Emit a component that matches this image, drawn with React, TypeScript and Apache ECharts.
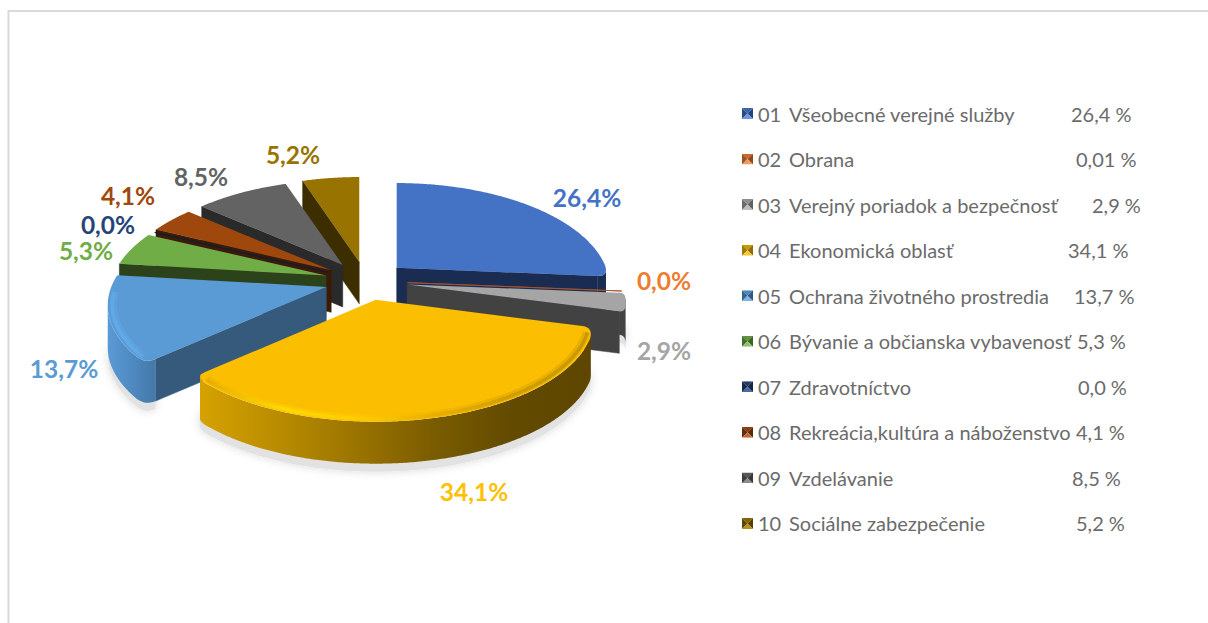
import React, { useEffect, useRef } from "react";
import * as echarts from "echarts";

// ---- data ----
const codes = ["01", "02", "03", "04", "05", "06", "07", "08", "09", "10"];
const categories = [
  "Všeobecné verejné služby",
  "Obrana",
  "Verejný poriadok a bezpečnosť",
  "Ekonomická oblasť",
  "Ochrana životného prostredia",
  "Bývanie a občianska vybavenosť",
  "Zdravotníctvo",
  "Rekreácia,kultúra a náboženstvo",
  "Vzdelávanie",
  "Sociálne zabezpečenie",
];
const values = [26.4, 0.01, 2.9, 34.1, 13.7, 5.3, 0.04, 4.1, 8.5, 5.2];
const sliceLabels = ["26,4%", "0,0%", "2,9%", "34,1%", "13,7%", "5,3%", "0,0%", "4,1%", "8,5%", "5,2%"];
const legendValues = ["26,4 %", "0,01 %", "2,9 %", "34,1 %", "13,7 %", "5,3 %", "0,0 %", "4,1 %", "8,5 %", "5,2 %"];

// ---- styles ----
const topColors = ["#4472C4", "#A5532A", "#A5A5A5", "#FBBE00", "#5B9BD5", "#70AD47", "#0F1E3C", "#9E480E", "#636363", "#997300"];
const labelColors = ["#4472C4", "#ED7D31", "#A5A5A5", "#FFC000", "#5B9BD5", "#70AD47", "#264478", "#9E480E", "#636363", "#997300"];
const faceColors = ["#1A2C51", "#7A3C12", "#424242", "#614800", "#355A7C", "#2B421B", "#0F1E3C", "#3B1B05", "#2A2A2A", "#3D2E00"];
const wallStops: (string[] | null)[] = [
  null, null, null,
  ["#D6A200", "#B98C00", "#9A7400", "#7A5C00", "#624A00", "#5E4600"],
  ["#5A9AD6", "#4F8AC2", "#4478A8"],
  null, null, null, null, null,
];
const rimStops: (string[] | null)[] = [
  null, null, null,
  ["#E2AA00", "#FFE000", "#FFD000", "#E4AC00", "#C79600", "#BE8F00"],
  ["#62ABEA", "#63AEEE", "#5FA8E6"],
  null, null, null, null, null,
];
const iconShades = [
  ["#6F95DA", "#2C4A85", "#3C64AD", "#27437A"],
  ["#F19A5E", "#9E5220", "#C9682A", "#8E4A1D"],
  ["#BDBDBD", "#6B6B6B", "#8F8F8F", "#616161"],
  ["#F0C83C", "#9E7B00", "#C79A00", "#8E6E00"],
  ["#7FB2E0", "#33648F", "#4C86BC", "#2E5A82"],
  ["#8FC26B", "#44702C", "#5E943A", "#3D6428"],
  ["#4A6AA5", "#17294A", "#213B69", "#152543"],
  ["#BD6A30", "#632D09", "#8A3F0C", "#592908"],
  ["#8A8A8A", "#3D3D3D", "#555555", "#373737"],
  ["#B8921E", "#5E4700", "#846400", "#554000"],
];

// ---- layout ----
const CENTER = { x: 366, y: 281 };
const EXPLODE = { x: 41.7, y: 19.4 };
const RADIUS_X = 215;
const RADIUS_Y = 100;
const PERSPECTIVE = 0.179;
const WIDTH_BY_DEPTH = 0.002;
const DEPTH = 42;
const CORNER = 11;
const THIN = 0.1;
const LABEL_FONT = "Lato, Carlito, sans-serif";
const labelPositions = [
  [587, 197], [664, 280], [664, 350], [474, 491], [64, 368],
  [86, 250], [108, 224], [128, 195], [201, 176], [293, 154],
];
const legendValueX = [1072, 1077, 1093, 1069, 1075, 1078, 1079, 1077, 1073, 1077];
const LEGEND_NAME_X = 790;

const total = values.reduce((a, b) => a + b, 0);
const rad = (d: number) => (d * Math.PI) / 180;

function sliceAngles(i: number) {
  let sum = 0;
  for (let k = 0; k < i; k++) sum += values[k];
  const start = (sum / total) * 360;
  return { start, end: start + (values[i] / total) * 360 };
}
function apexOf(i: number) {
  const { start, end } = sliceAngles(i);
  const m = rad((start + end) / 2);
  return { x: CENTER.x + EXPLODE.x * Math.sin(m), y: CENTER.y - EXPLODE.y * Math.cos(m) };
}
function pointOn(i: number, deg: number, r = 1): number[] {
  const a = apexOf(i);
  const t = rad(deg);
  const c = Math.cos(t) * r;
  const p = 1 / (1 + PERSPECTIVE * c);
  const rx = RADIUS_X * (1 + Math.min(0, a.y - CENTER.y) * WIDTH_BY_DEPTH);
  return [a.x + rx * Math.sin(t) * r * p, a.y - RADIUS_Y * c * p];
}
function arc(i: number, from: number, to: number, r = 1): number[][] {
  const pts: number[][] = [];
  const n = Math.max(1, Math.ceil(Math.abs(to - from) * 2));
  for (let k = 0; k <= n; k++) pts.push(pointOn(i, from + ((to - from) * k) / n, r));
  return pts;
}
const isFrontCorner = (deg: number) => deg > 90 && deg < 270;

// Outline of the rim, its front corners softened; first/last points lie on the radial edges.
function outline(i: number): number[][] {
  const { start, end } = sliceAngles(i);
  const a = [apexOf(i).x, apexOf(i).y];
  const big = values[i] >= 1;
  const pts = arc(i, start, end, values[i] < THIN ? 0.985 : 1);
  const soften = (list: number[][], deg: number, size: number) => {
    if (!big || !isFrontCorner(deg)) return list;
    const e = list[0];
    const len = Math.hypot(e[0] - a[0], e[1] - a[1]);
    const p0 = [e[0] + ((a[0] - e[0]) * size) / len, e[1] + ((a[1] - e[1]) * size) / len];
    let k = 1;
    while (k < list.length - 1 && Math.hypot(list[k][0] - e[0], list[k][1] - e[1]) < size) k++;
    const p1 = list[k];
    const curve: number[][] = [];
    for (let s = 0; s < 8; s++) {
      const t = s / 8;
      curve.push([
        (1 - t) * (1 - t) * p0[0] + 2 * t * (1 - t) * e[0] + t * t * p1[0],
        (1 - t) * (1 - t) * p0[1] + 2 * t * (1 - t) * e[1] + t * t * p1[1],
      ]);
    }
    return curve.concat(list.slice(k));
  };
  const size = values[i] < 5 ? CORNER / 2 : CORNER;
  const once = soften(pts, start, size);
  return soften(once.reverse(), end, size).reverse();
}
function gradient(stops: string[], x0: number, x1: number) {
  return {
    type: "linear", x: x0, y: 0, x2: x1, y2: 0, global: true,
    colorStops: stops.map((color, k) => ({ offset: k / (stops.length - 1), color })),
  };
}
function faceVisible(i: number, edgeDeg: number) {
  if (values[i] < THIN) return false;
  const { start, end } = sliceAngles(i);
  const a = apexOf(i);
  const e = pointOn(i, edgeDeg);
  const mid = pointOn(i, (start + end) / 2, 0.5);
  const dx = e[0] - a.x;
  if (Math.abs(dx) < 1) return false;
  return mid[1] < a.y + ((e[1] - a.y) * (mid[0] - a.x)) / dx;
}
const shifted = (pts: number[][], dz: number) => pts.map((p) => [p[0], p[1] + dz]);
// The part of the rim that faces the viewer, trimmed to run one way across the screen.
function frontRim(i: number, rim: number[][]) {
  const { start, end } = sliceAngles(i);
  if (values[i] < THIN || end <= 90 || start >= 270) return [];
  const a = apexOf(i);
  const kept = rim.filter((p) => {
    if (start >= 90 && end <= 270) return true;
    return p[1] >= a.y - 0.5;
  });
  if (kept.length < 2) return [];
  let lo = 0;
  let hi = 0;
  kept.forEach((p, k) => {
    if (p[0] < kept[lo][0]) lo = k;
    if (p[0] > kept[hi][0]) hi = k;
  });
  return kept.slice(Math.min(lo, hi), Math.max(lo, hi) + 1);
}

function renderSlice(i: number) {
  return (_params: any, api: any) => {
    api.value(0);
    const { start, end } = sliceAngles(i);
    const a = [apexOf(i).x, apexOf(i).y];
    const rim = outline(i);
    const children: any[] = [];
    // radial faces
    [start, end].forEach((deg) => {
      if (!faceVisible(i, deg)) return;
      const e = deg === start ? rim[0] : rim[rim.length - 1];
      children.push({
        type: "polygon",
        shape: { points: [a, e, [e[0], e[1] + DEPTH], [a[0], a[1] + DEPTH]] },
        style: { fill: faceColors[i], stroke: faceColors[i], lineWidth: 0.5 },
      });
    });
    // outer wall
    const front = frontRim(i, rim);
    if (front.length > 1) {
      const xs = front.map((p) => p[0]);
      const x0 = Math.min(...xs);
      const x1 = Math.max(...xs);
      const stops = wallStops[i];
      children.push({
        type: "polygon",
        shape: { points: front.concat(shifted(front, DEPTH).reverse()) },
        style: { fill: stops ? gradient(stops, x0, x1) : faceColors[i] },
      });
    }
    // top face
    children.push({
      type: "polygon",
      shape: { points: [a].concat(rim) },
      style: {
        fill: topColors[i],
        stroke: values[i] < THIN ? topColors[i] : "none",
        lineWidth: values[i] < THIN ? 0.9 : 0,
      },
    });
    // bevel highlight along the front rim
    const rimFill = rimStops[i];
    if (rimFill && front.length > 1) {
      const from = Math.max(start, 90) + 3;
      const to = Math.min(end, 270) - 3;
      const line = arc(i, from, to, 0.975);
      const xs = line.map((p) => p[0]);
      const fill = gradient(rimFill, Math.min(...xs), Math.max(...xs));
      children.push({
        type: "polyline",
        shape: { points: line },
        style: { stroke: fill, lineWidth: 7, fill: "none", opacity: 0.35 },
      });
      children.push({
        type: "polyline",
        shape: { points: arc(i, from, to, 0.98) },
        style: { stroke: fill, lineWidth: 3.5, fill: "none", opacity: 0.7 },
      });
    }
    // data label
    children.push({
      type: "text",
      x: labelPositions[i][0],
      y: labelPositions[i][1],
      z2: 10,
      style: {
        text: sliceLabels[i],
        fill: labelColors[i],
        font: `bold 24.5px ${LABEL_FONT}`,
        align: "center",
        verticalAlign: "middle",
      },
    });
    return { type: "group", children };
  };
}

function renderShadow(params: any, api: any) {
  api.value(0);
  const i = params.dataIndex;
  const front = frontRim(i, outline(i));
  if (front.length < 2) return { type: "group", children: [] };
  return {
    type: "polygon",
    shape: { points: shifted(front, DEPTH - 12).concat(shifted(front, DEPTH + 8).reverse()) },
    style: {
      fill: "#E2E2E2",
      shadowColor: "rgba(0,0,0,0.15)",
      shadowBlur: 8,
      shadowOffsetX: 0,
      shadowOffsetY: 0,
    },
  };
}

function iconUri(i: number) {
  const [b, l, t, r] = iconShades[i];
  const svg =
    `<svg xmlns="http://www.w3.org/2000/svg" width="11" height="11" viewBox="0 0 11 11">` +
    `<polygon points="0,0 11,0 5.5,5.5" fill="${t}"/>` +
    `<polygon points="0,0 0,11 5.5,5.5" fill="${l}"/>` +
    `<polygon points="11,0 11,11 5.5,5.5" fill="${r}"/>` +
    `<polygon points="0,11 11,11 5.5,5.5" fill="${b}"/></svg>`;
  return "image://data:image/svg+xml;base64," + btoa(svg);
}

export default function App() {
  const ref = useRef<HTMLDivElement>(null);
  useEffect(() => {
    document.body.style.margin = "0";
    document.body.style.background = "#fff";
    const chart = echarts.init(ref.current!, undefined, { renderer: "svg" });
    const names = categories.map((c, i) => `${codes[i]} ${c}`);
    const bis = values.map((_, i) => {
      const { start, end } = sliceAngles(i);
      return Math.cos(rad((start + end) / 2));
    });
    const order = values.map((_, i) => i).sort((p, q) => bis[q] - bis[p]);
    const text = { fontSize: 20, fontFamily: LABEL_FONT, color: "#6B6B6B" };
    const rich: any = { code: { ...text, width: 31 }, val: { ...text } };
    legendValueX.forEach((x, i) => {
      rich["n" + i] = { ...text, width: x - LEGEND_NAME_X };
    });
    chart.setOption({
      animation: false,
      backgroundColor: "#fff",
      graphic: [
        { type: "rect", shape: { x: 8, y: 10, width: 1200, height: 2 }, style: { fill: "#D9D9D9" } },
        { type: "rect", shape: { x: 7.5, y: 10, width: 2, height: 613 }, style: { fill: "#D9D9D9" } },
      ],
      legend: {
        orient: "vertical",
        left: 742,
        top: 101.5,
        padding: 0,
        itemWidth: 11,
        itemHeight: 11,
        itemGap: 21.55,
        selectedMode: false,
        data: names.map((name, i) => ({ name, icon: iconUri(i) })),
        formatter: (name: string) => {
          const i = names.indexOf(name);
          return `{code|${codes[i]}}{n${i}|${categories[i]}}{val|${legendValues[i]}}`;
        },
        textStyle: { lineHeight: 24, rich },
      },
      series: [
        {
          type: "custom",
          name: "shadow",
          coordinateSystem: "none",
          z: 1,
          silent: true,
          data: values,
          renderItem: renderShadow,
        },
        ...names.map((name, i) => ({
          type: "custom",
          name,
          coordinateSystem: "none",
          z: 2 + order.indexOf(i),
          itemStyle: { color: topColors[i] },
          data: [values[i]],
          renderItem: renderSlice(i),
        })),
      ],
    });
    return () => chart.dispose();
  }, []);
  return <div ref={ref} style={{ position: "absolute", left: 0, top: 0, width: 1208, height: 623, overflow: "hidden" }} />;
}
